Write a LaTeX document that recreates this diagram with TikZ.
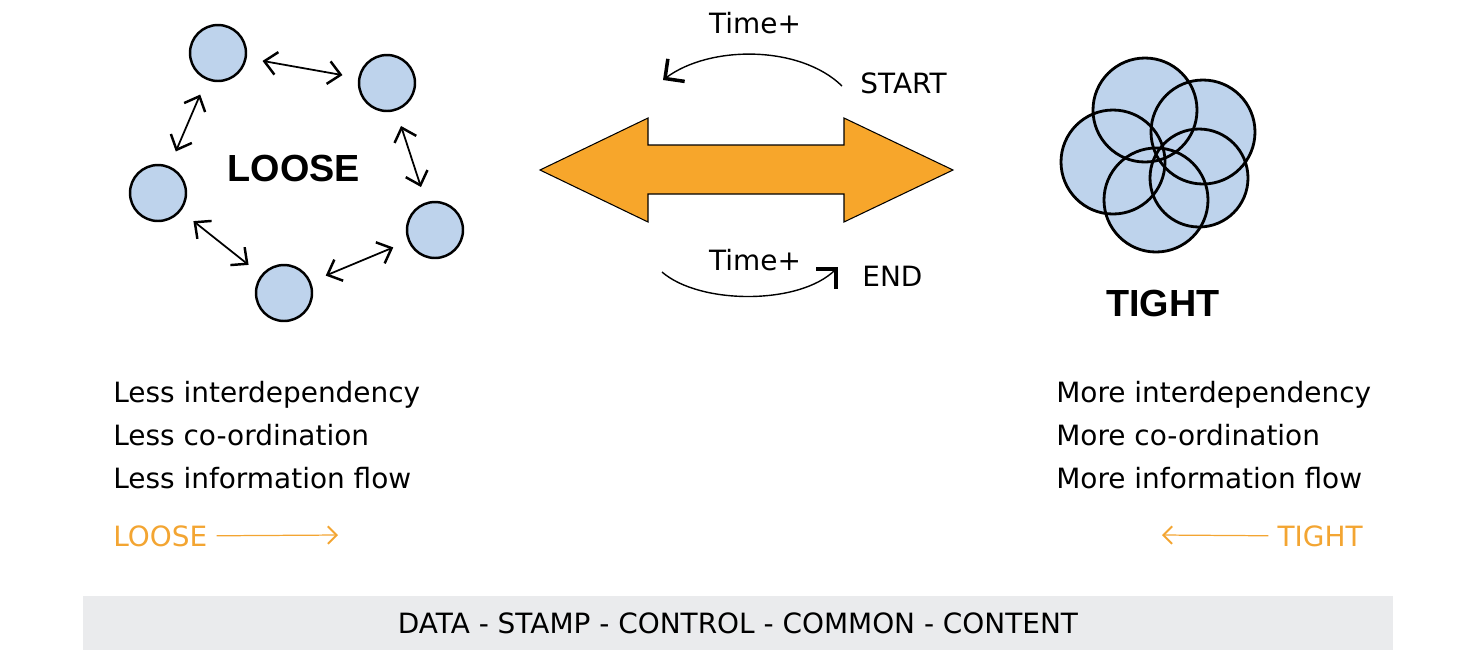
\documentclass[tikz,border=0pt]{standalone}
\usepackage{fontspec}
\setmainfont{DejaVu Sans}
\newfontfamily\headfont{Liberation Sans}
\usepackage{tikz}
\usetikzlibrary{arrows.meta,positioning}

\definecolor{ballblue}{HTML}{BED3EC}
\definecolor{bigorange}{HTML}{F7A62B}
\definecolor{tagorange}{HTML}{F3A532}
\definecolor{bargrey}{HTML}{EAEBED}

\tikzset{
	ball/.style={circle,draw=black,line width=1.4pt,fill=ballblue,minimum size=1.12cm,inner sep=0pt},
	tightball/.style={circle,fill=ballblue,minimum size=2.08cm,inner sep=0pt},
	link/.style={{Straight Barb[length=7pt,width=13pt,line width=1.4pt]}-{Straight Barb[length=7pt,width=13pt,line width=1.4pt]},
		line width=1pt,shorten >=0.32cm,shorten <=0.32cm},
	timecurve/.style={-{Straight Barb[length=8pt,width=16pt,line width=2pt]},line width=0.8pt},
	tagarrow/.style={-{Straight Barb[length=5pt,width=10pt,line width=1.1pt]},draw=tagorange,line width=0.7pt,shorten <=0.18cm},
	listtext/.style={anchor=base west,inner sep=0pt,font=\fontsize{15.9}{19}\selectfont},
	tagtext/.style={inner sep=0pt,text=tagorange,font=\fontsize{15.9}{19}\selectfont},
	headtext/.style={inner sep=0pt,font=\headfont\bfseries\fontsize{21.5}{25}\selectfont}
}

\begin{document}
\begin{tikzpicture}[x=0.02cm,y=-0.02cm]
	\useasboundingbox (0,0) rectangle (1474,657);

	% loose group
	\node (looseI)[ball] at (218,53){};
	\node (looseII)[ball] at (387,83){};
	\node (looseIII)[ball] at (435,230){};
	\node (looseIV)[ball] at (284,293){};
	\node (looseV)[ball] at (158,193){};
	\node (looseHead)[headtext] at (294,168){LOOSE};

	\draw[link] (looseI)--(looseII);
	\draw[link] (looseII)--(looseIII);
	\draw[link] (looseIII)--(looseIV);
	\draw[link] (looseIV)--(looseV);
	\draw[link] (looseV)--(looseI);

	% big double arrow
	\draw[fill=bigorange,line width=0.6pt] (540,170)--(648,118)--(648,145)--(844,145)--(844,118)
		--(953,170)--(844,222)--(844,194)--(648,194)--(648,222)--cycle;

	% time curves
	\node (timeTop)[anchor=base,inner sep=0pt,font=\fontsize{15.9}{19}\selectfont] at (755,33){Time+};
	\node (startTag)[listtext] at (860,93){START};
	\node (timeBottom)[anchor=base,inner sep=0pt,font=\fontsize{15.9}{19}\selectfont] at (755,270){Time+};
	\node (endTag)[listtext] at (862,286){END};
	\coordinate (startFrom) at (842,86);
	\coordinate (startTo) at (663,80);
	\coordinate (endFrom) at (662,272);
	\coordinate (endTo) at (838,267);
	\draw[timecurve] (startFrom) .. controls (800,45) and (710,45) .. (startTo);
	\draw[timecurve] (endFrom) .. controls (700,305) and (800,305) .. (endTo);

	% tight group
	\node (tightI)[tightball] at (1145,110){};
	\node (tightII)[tightball] at (1203,132){};
	\node (tightIII)[tightball] at (1113,162){};
	\node (tightIV)[tightball] at (1156,200){};
	\node (tightV)[tightball,minimum size=1.96cm] at (1199,178){};
	\foreach \n/\r in {I/52,II/52,III/52,IV/52,V/49}
		\draw[line width=1.6pt] (tight\n.center) circle (\r);
	\node (tightHead)[headtext] at (1163,303){TIGHT};

	% lists
	\node (lessI)[listtext] at (113,402){Less interdependency};
	\node (lessII)[listtext] at (113,445){Less co-ordination};
	\node (lessIII)[listtext] at (113,488){Less information flow};
	\node (moreI)[listtext] at (1056,402){More interdependency};
	\node (moreII)[listtext] at (1056,445){More co-ordination};
	\node (moreIII)[listtext] at (1056,488){More information flow};

	% orange tags
	\node (looseTag)[tagtext,anchor=base west] at (113,546){LOOSE};
	\node (tightTag)[tagtext,anchor=base east] at (1363,546){TIGHT};
	\coordinate (looseEnd) at (338,535);
	\coordinate (tightEnd) at (1162,535);
	\draw[tagarrow] (looseTag.east)--(looseEnd);
	\draw[tagarrow] (tightTag.west)--(tightEnd);

	% scale bar
	\node (scale)[fill=bargrey,minimum width=26.2cm,minimum height=1.08cm,inner sep=0pt,
		font=\fontsize{15.9}{19}\selectfont] at (738,623){DATA - STAMP - CONTROL - COMMON - CONTENT};
\end{tikzpicture}
\end{document}
